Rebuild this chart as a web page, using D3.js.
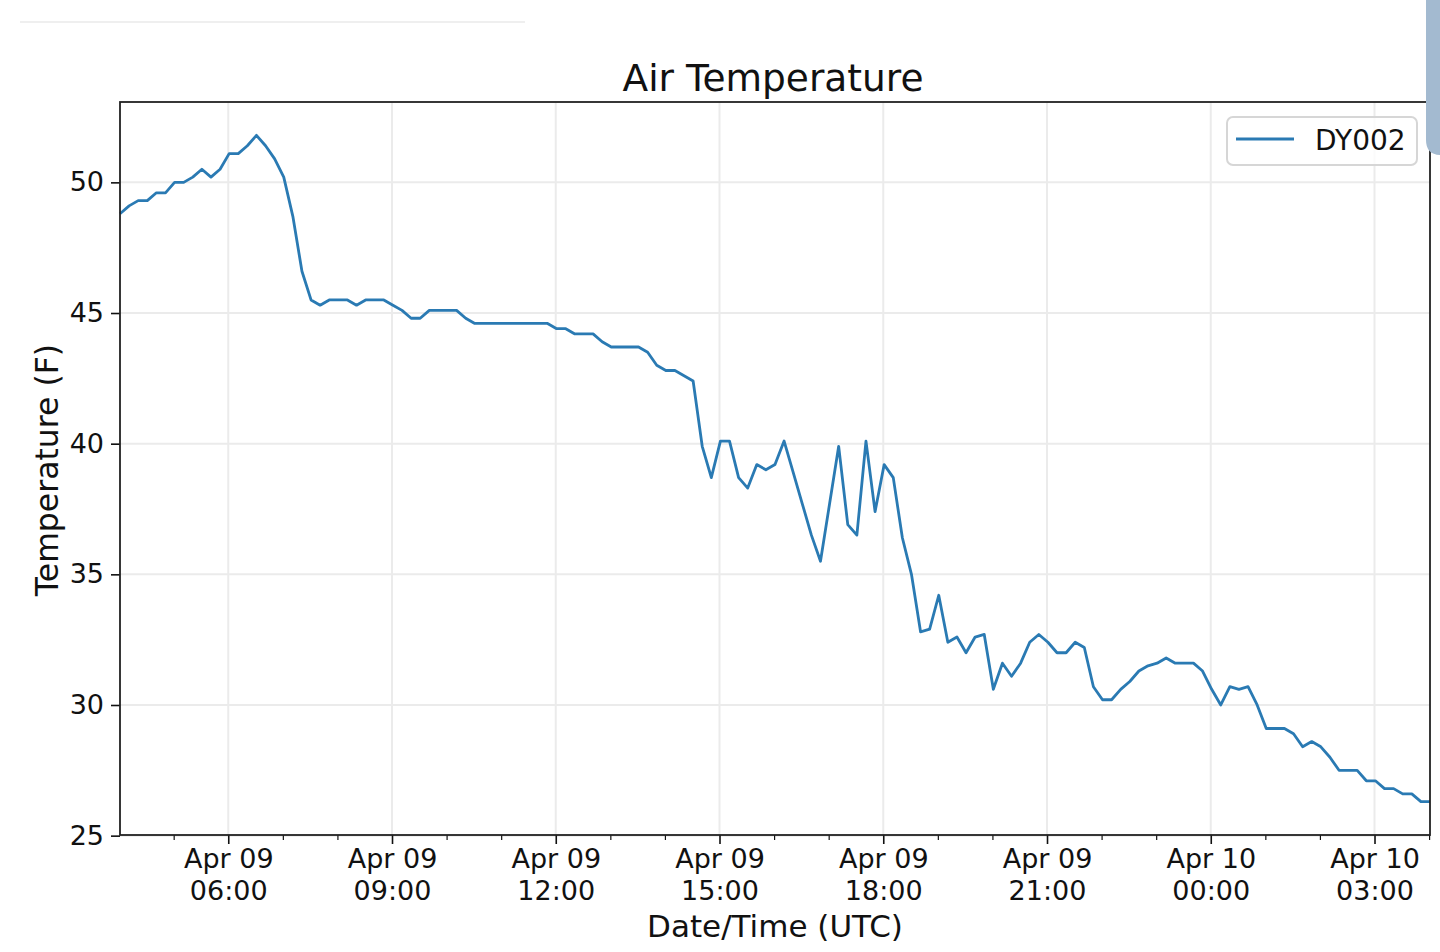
<!DOCTYPE html>
<html lang="en">
<head>
<meta charset="utf-8">
<title>Air Temperature</title>
<script src="https://d3js.org/d3.v7.min.js"></script>
<style>
  body { margin: 0; background: #fff; }
  svg text { font-family: "DejaVu Sans", sans-serif; fill: #111; }
</style>
</head>
<body>
<svg id="chart" width="1440" height="952"></svg>
<script>
// data: one reading every 10 minutes, Apr 09 04:01 -> Apr 10 04:01 (UTC)
const startTime = "2019-04-09T04:01:00Z";
const stepMinutes = 10;
const seriesName = "DY002";
const tempF = [
  48.8, 49.1, 49.3, 49.3, 49.6, 49.6, 50.0, 50.0, 50.2, 50.5,
  50.2, 50.5, 51.1, 51.1, 51.4, 51.8, 51.4, 50.9, 50.2, 48.7,
  46.6, 45.5, 45.3, 45.5, 45.5, 45.5, 45.3, 45.5, 45.5, 45.5,
  45.3, 45.1, 44.8, 44.8, 45.1, 45.1, 45.1, 45.1, 44.8, 44.6,
  44.6, 44.6, 44.6, 44.6, 44.6, 44.6, 44.6, 44.6, 44.4, 44.4,
  44.2, 44.2, 44.2, 43.9, 43.7, 43.7, 43.7, 43.7, 43.5, 43.0,
  42.8, 42.8, 42.6, 42.4, 39.9, 38.7, 40.1, 40.1, 38.7, 38.3,
  39.2, 39.0, 39.2, 40.1, 38.9, 37.7, 36.5, 35.5, 37.7, 39.9,
  36.9, 36.5, 40.1, 37.4, 39.2, 38.7, 36.4, 35.0, 32.8, 32.9,
  34.2, 32.4, 32.6, 32.0, 32.6, 32.7, 30.6, 31.6, 31.1, 31.6,
  32.4, 32.7, 32.4, 32.0, 32.0, 32.4, 32.2, 30.7, 30.2, 30.2,
  30.6, 30.9, 31.3, 31.5, 31.6, 31.8, 31.6, 31.6, 31.6, 31.3,
  30.6, 30.0, 30.7, 30.6, 30.7, 30.0, 29.1, 29.1, 29.1, 28.9,
  28.4, 28.6, 28.4, 28.0, 27.5, 27.5, 27.5, 27.1, 27.1, 26.8,
  26.8, 26.6, 26.6, 26.3, 26.3
];
const yTicks = [25, 30, 35, 40, 45, 50];
const titleText = "Air Temperature";
const xLabel = "Date/Time (UTC)";
const yLabel = "Temperature (F)";

const t0 = new Date(startTime);
const data = tempF.map((v, i) => ({ t: new Date(t0.getTime() + i * stepMinutes * 60000), v: v }));

// layout of the plot box
const pLeft = 120, pRight = 1430, pTop = 102, pBottom = 835;
const svg = d3.select("#chart");

// scales (matplotlib style: tight x, 5% margin on y)
const x = d3.scaleUtc()
  .domain(d3.extent(data, d => d.t))
  .range([pLeft, pRight]);
const ext = d3.extent(data, d => d.v);
const pad = (ext[1] - ext[0]) * 0.05;
const y = d3.scaleLinear()
  .domain([ext[0] - pad, ext[1] + pad])
  .range([pBottom, pTop]);

const majorX = x.ticks(d3.utcHour.every(3)).filter(d => d > x.domain()[0] && d < x.domain()[1]);
const minorX = x.ticks(d3.utcHour.every(1)).filter(d => d.getUTCHours() % 3 !== 0);

// grid
const grid = svg.append("g").attr("stroke", "#ebebeb").attr("stroke-width", 2);
grid.selectAll(".gx").data(majorX).enter().append("line")
  .attr("x1", d => x(d)).attr("x2", d => x(d))
  .attr("y1", pTop).attr("y2", pBottom);
grid.selectAll(".gy").data(yTicks).enter().append("line")
  .attr("x1", pLeft).attr("x2", pRight)
  .attr("y1", d => y(d)).attr("y2", d => y(d));

// line
const line = d3.line().x(d => x(d.t)).y(d => y(d.v));
svg.append("path")
  .datum(data)
  .attr("d", line)
  .attr("fill", "none")
  .attr("stroke", "#2a7ab3")
  .attr("stroke-width", 2.8)
  .attr("stroke-linejoin", "round");

// axes
const fmtDay = d3.utcFormat("%b %d"), fmtTime = d3.utcFormat("%H:%M");
const xAxis = svg.append("g")
  .attr("transform", "translate(0," + pBottom + ")")
  .call(d3.axisBottom(x).tickValues(majorX).tickSize(9).tickFormat(""));
xAxis.select(".domain").remove();
xAxis.selectAll(".tick line").attr("stroke", "#111").attr("stroke-width", 1.6);
xAxis.selectAll(".tick").append("text")
  .attr("text-anchor", "middle").attr("font-size", 27).attr("y", 33)
  .text(d => fmtDay(d));
xAxis.selectAll(".tick").append("text")
  .attr("text-anchor", "middle").attr("font-size", 27).attr("y", 65)
  .text(d => fmtTime(d));

const xMinor = svg.append("g")
  .attr("transform", "translate(0," + pBottom + ")")
  .call(d3.axisBottom(x).tickValues(minorX).tickSize(5).tickFormat(""));
xMinor.select(".domain").remove();
xMinor.selectAll(".tick line").attr("stroke", "#111").attr("stroke-width", 1.2);

const yAxis = svg.append("g")
  .attr("transform", "translate(" + pLeft + ",0)")
  .call(d3.axisLeft(y).tickValues(yTicks).tickSize(9).tickPadding(7));
yAxis.select(".domain").remove();
yAxis.selectAll(".tick line").attr("stroke", "#111").attr("stroke-width", 1.6);
yAxis.selectAll(".tick text").attr("font-size", 27).attr("fill", "#111")
  .style("font-family", "DejaVu Sans");

// frame
svg.append("rect")
  .attr("x", pLeft).attr("y", pTop)
  .attr("width", pRight - pLeft).attr("height", pBottom - pTop)
  .attr("fill", "none").attr("stroke", "#222").attr("stroke-width", 1.8);

// titles
svg.append("text").attr("x", 773).attr("y", 91)
  .attr("text-anchor", "middle").attr("font-size", 37.5).text(titleText);
svg.append("text").attr("x", (pLeft + pRight) / 2).attr("y", 937)
  .attr("text-anchor", "middle").attr("font-size", 31).text(xLabel);
svg.append("text")
  .attr("transform", "translate(58," + (pTop + pBottom + 3) / 2 + ") rotate(-90)")
  .attr("text-anchor", "middle").attr("font-size", 31.5).text(yLabel);

// legend
const lg = svg.append("g").attr("transform", "translate(1227,117)");
lg.append("rect").attr("width", 190).attr("height", 48).attr("rx", 6)
  .attr("fill", "#fff").attr("fill-opacity", 0.8)
  .attr("stroke", "#d6d6d6").attr("stroke-width", 2);
lg.append("line").attr("x1", 9).attr("x2", 67).attr("y1", 22).attr("y2", 22)
  .attr("stroke", "#2a7ab3").attr("stroke-width", 2.8);
lg.append("text").attr("x", 88).attr("y", 33).attr("font-size", 28).text(seriesName);

// screenshot artefacts: faint rule at top-left, scroll handle at top-right
svg.append("line").attr("x1", 20).attr("x2", 525).attr("y1", 22).attr("y2", 22)
  .attr("stroke", "#efefef").attr("stroke-width", 2);
svg.append("path")
  .attr("d", "M1426,0 H1440 V155 H1441 Q1426,155 1426,140 Z")
  .attr("fill", "#a3bad0");
</script>
</body>
</html>
